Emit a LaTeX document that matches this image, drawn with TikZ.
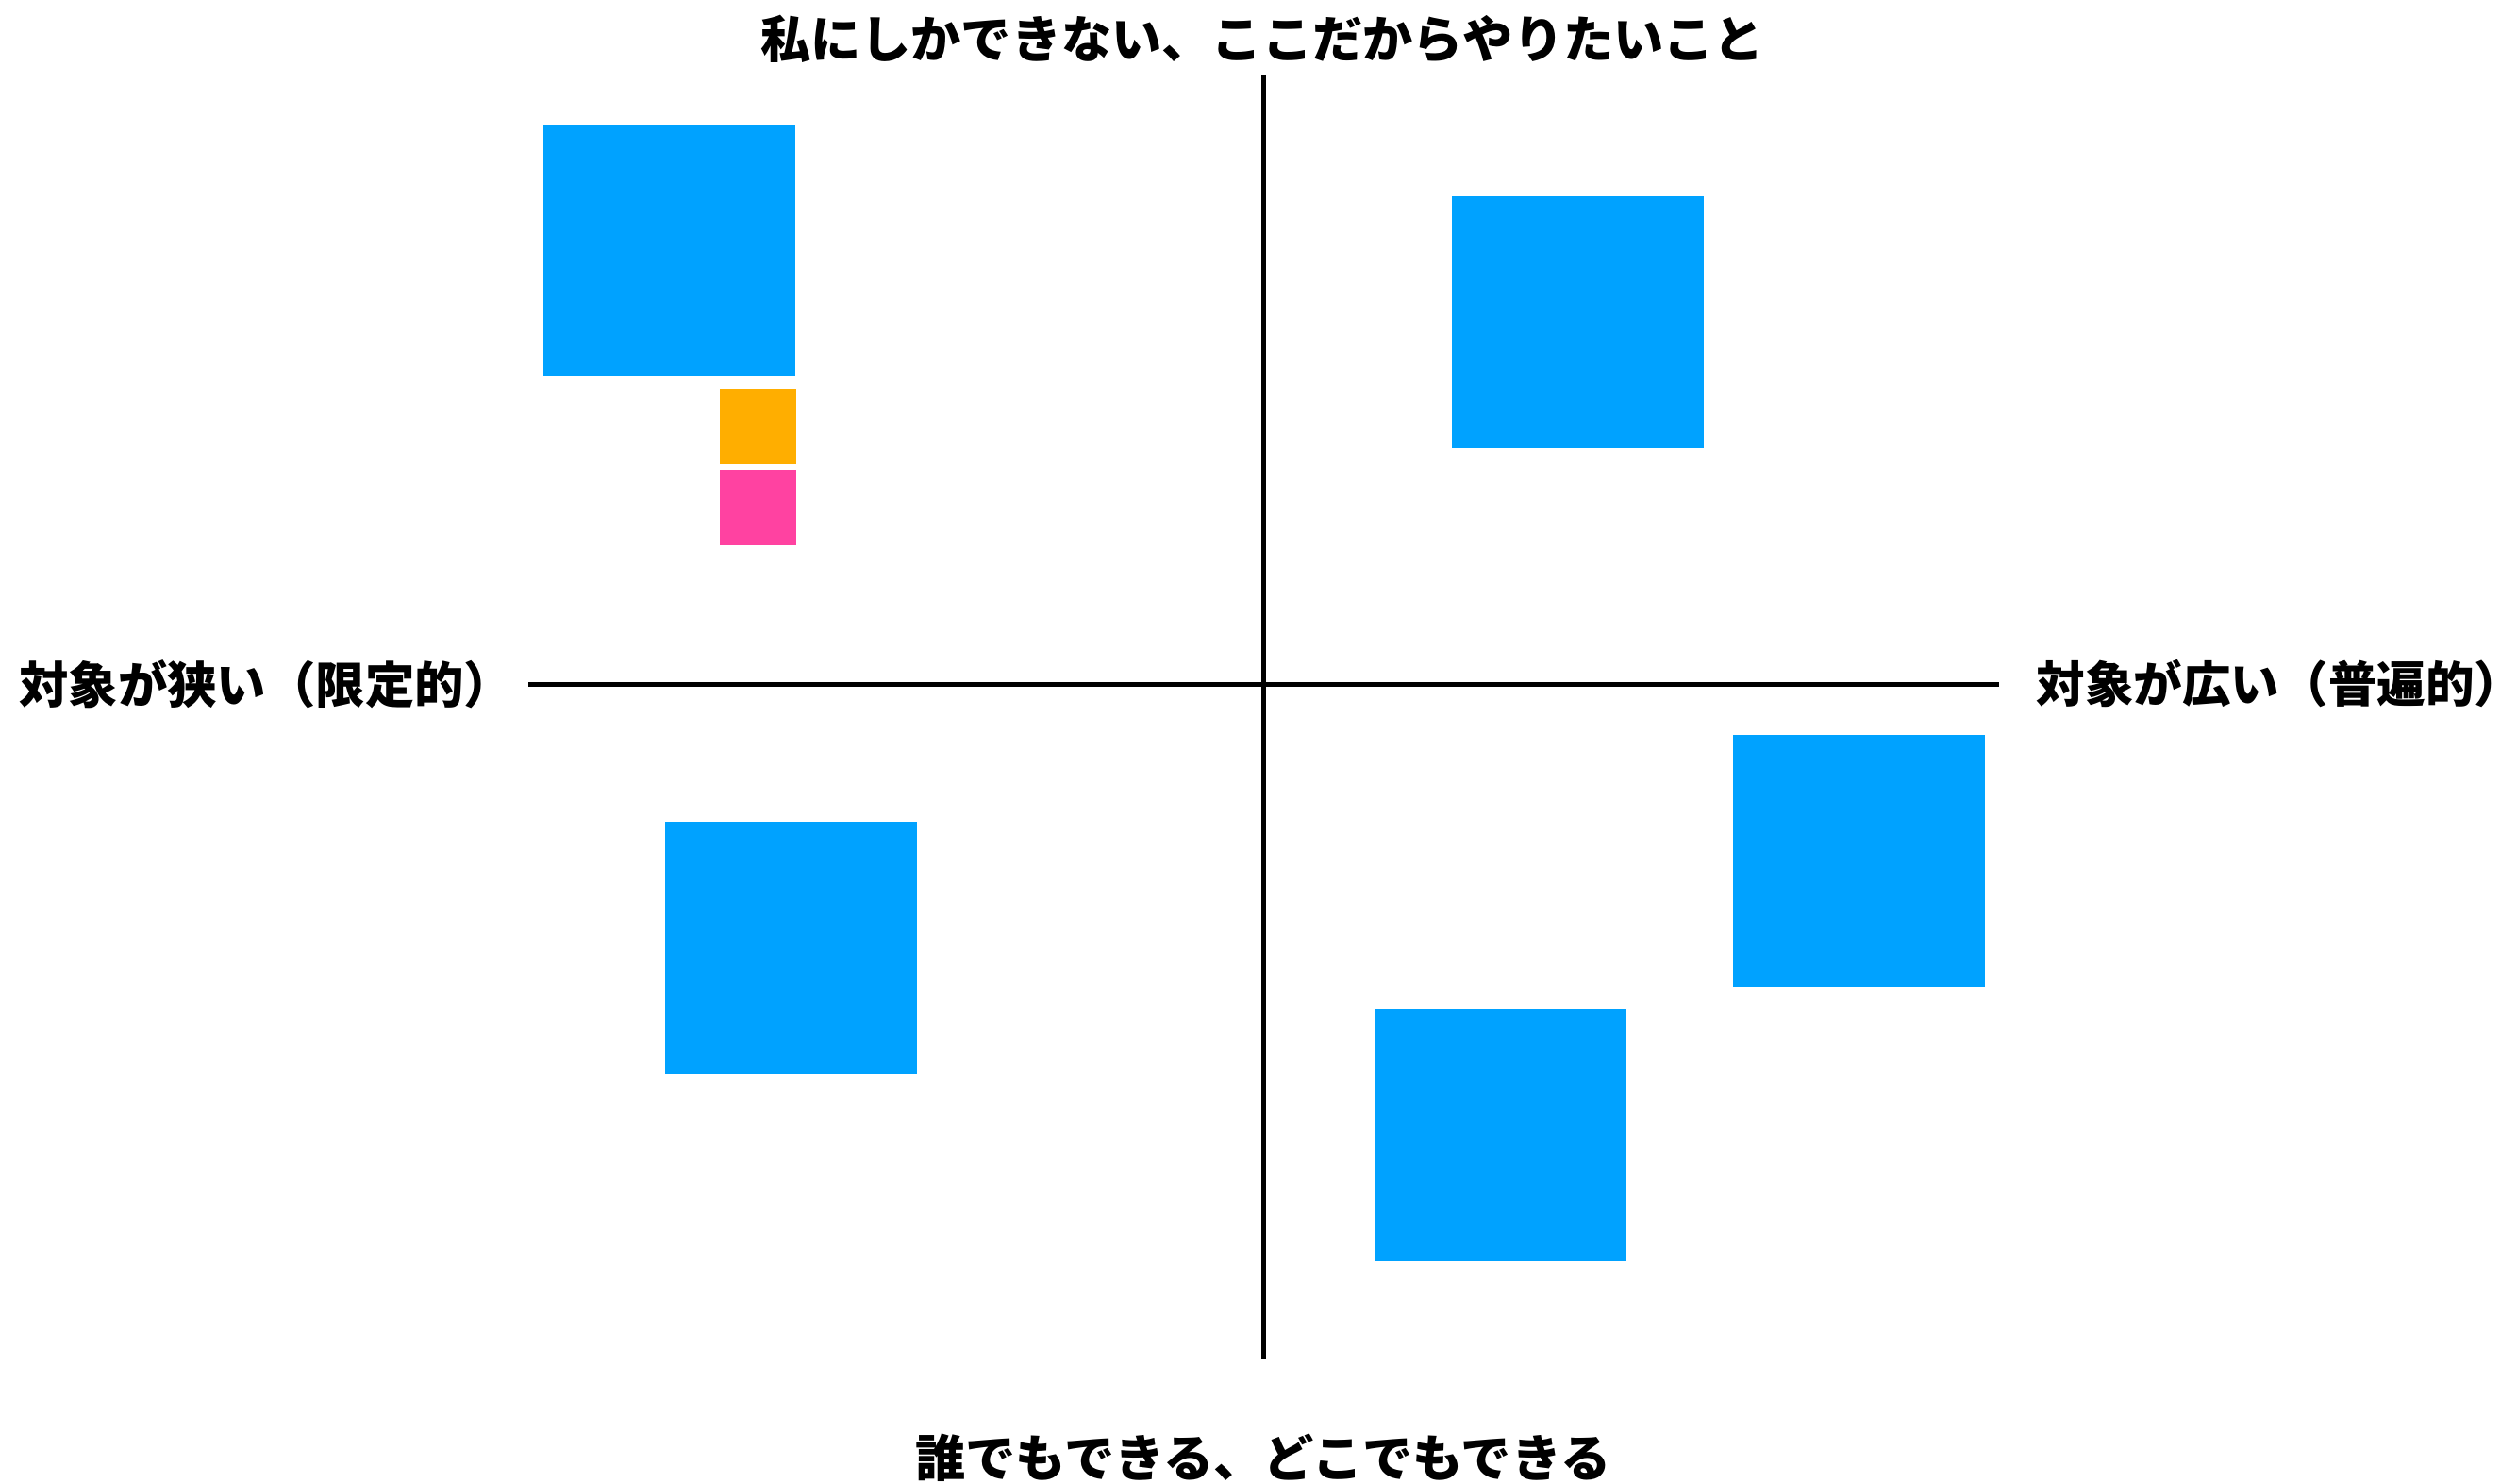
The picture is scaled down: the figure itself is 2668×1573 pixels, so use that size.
\documentclass[tikz,border=0pt]{standalone}
\usepackage{fontspec}
\newfontfamily\jp{Noto Sans CJK JP}
\definecolor{sqblue}{RGB}{0,162,255}
\definecolor{sqorange}{RGB}{255,174,0}
\definecolor{sqpink}{RGB}{255,66,161}
\begin{document}
\begin{tikzpicture}[x=0.5pt,y=-0.5pt,
  sq/.style={draw=none,inner sep=0pt,outer sep=0pt,minimum width=133.5pt,minimum height=133.5pt,fill=sqblue},
  small/.style={draw=none,inner sep=0pt,outer sep=0pt,minimum width=40.5pt,minimum height=40pt},
  axis/.style={line width=2.5pt,black},
  lbl/.style={inner sep=0pt,font=\jp\bfseries\fontsize{26.2}{30}\selectfont}]
\useasboundingbox (0,0) rectangle (2668,1573);
% axes
\coordinate (vt) at (1339,79);
\coordinate (vb) at (1339,1441);
\coordinate (hl) at (560,725.5);
\coordinate (hr) at (2119,725.5);
\draw[axis] (vt) -- (vb);
\draw[axis] (hl) -- (hr);
% squares
\node[sq] (s1) at (709.5,265.5) {};
\node[sq] (s2) at (1672,341.5) {};
\node[sq] (s3) at (1970,912.5) {};
\node[sq] (s4) at (838.5,1004.5) {};
\node[sq] (s5) at (1590,1203.5) {};
\node[small,fill=sqorange] (o1) at (803.5,452) {};
\node[small,fill=sqpink] (p1) at (803.5,538) {};
% labels
\node[lbl,font=\jp\bfseries\fontsize{26.6}{30}\selectfont] (top) at (1338,41) {私にしかできない、ここだからやりたいこと};
\node[lbl,anchor=west] (left) at (20,725) {対象が狭い（限定的）};
\node[lbl,anchor=west,font=\jp\bfseries\fontsize{25.8}{30}\selectfont] (right) at (2158,725) {対象が広い（普遍的\makebox[0.45em][l]{）}};
\node[lbl,font=\jp\bfseries\fontsize{26.6}{30}\selectfont] (bot) at (1339,1545) {誰でもできる、どこでもできる};
\end{tikzpicture}
\end{document}
